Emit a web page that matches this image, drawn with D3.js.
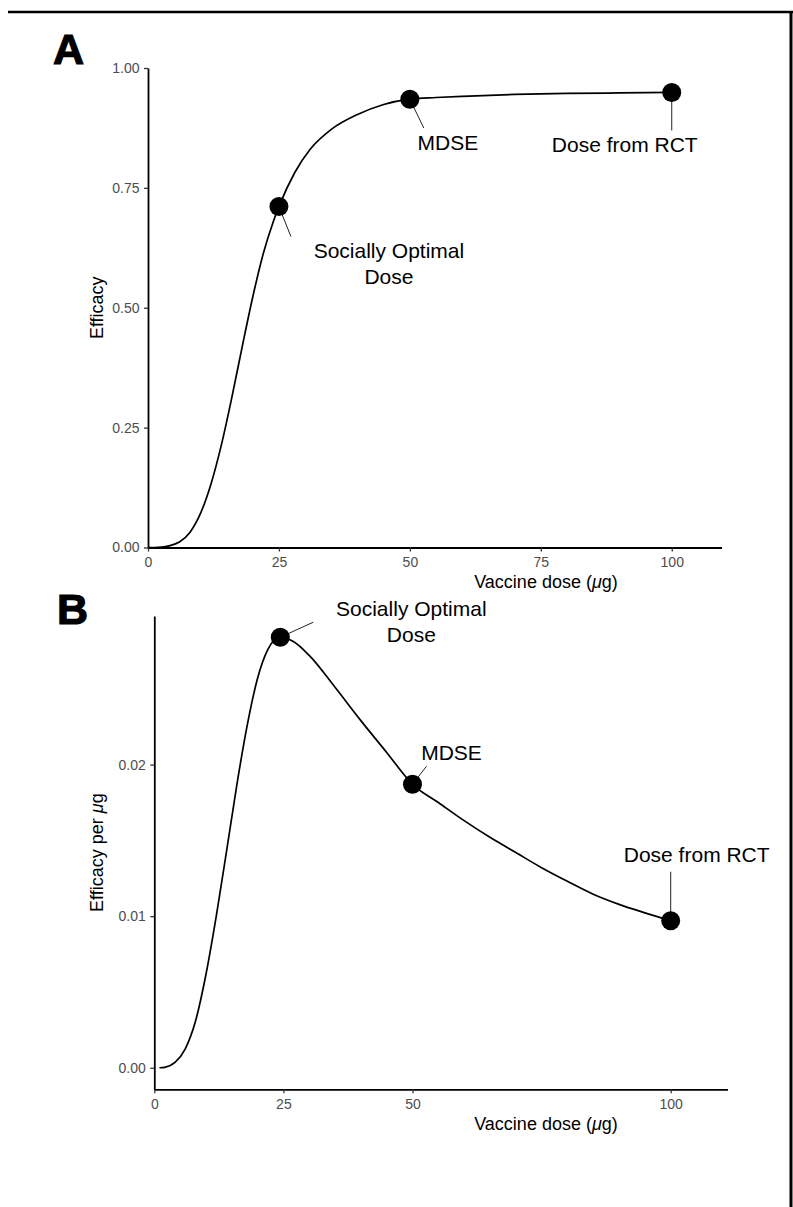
<!DOCTYPE html>
<html>
<head>
<meta charset="utf-8">
<script src="https://cdn.jsdelivr.net/npm/d3@7"></script>
<style>
  body { margin: 0; background: #fff; }
  svg { display: block; font-family: "Liberation Sans", Arial, sans-serif; }
</style>
</head>
<body>
<div id="chart"></div>
<script>
// Panel A: efficacy curve
const doseA = [0, 2, 4, 6, 8, 10, 12, 14, 16, 18, 20, 22, 24, 25, 28, 31, 35, 40, 45, 50, 55, 60, 70, 80, 90, 100];
const efficacyA = [0, 0.0005, 0.0035, 0.0115, 0.0315, 0.0705, 0.1315, 0.2135, 0.3125, 0.4195, 0.5225, 0.6125, 0.682, 0.711, 0.7815, 0.831, 0.872, 0.903, 0.924, 0.935, 0.9385, 0.941, 0.945, 0.947, 0.948, 0.949];

// Panel B: efficacy per microgram
const doseB = [1, 2, 4, 6, 8, 10, 12, 14, 16, 18, 20, 22, 24.4, 27, 30, 35, 40, 45, 50, 55, 60, 65, 70, 75, 80, 85, 90, 95, 100];
const efficacyPerUg = [0, 0.00003, 0.00035, 0.00125, 0.0031, 0.00615, 0.01, 0.0143, 0.0187, 0.0226, 0.0257, 0.0276, 0.0284, 0.0281, 0.0272, 0.0251, 0.0229, 0.0208, 0.0187, 0.0175, 0.0163, 0.0152, 0.0142, 0.0132, 0.0123, 0.01145, 0.01078, 0.01022, 0.0097];

// Highlighted doses
const markerNames = [["Socially Optimal", "Dose"], ["MDSE"], ["Dose from RCT"]];
const markerDoseA = [25, 50, 100];
const markerEffA = [0.711, 0.935, 0.949];
const markerDoseB = [24.4, 50, 100];
const markerEffB = [0.0284, 0.0187, 0.0097];

// Tick labels
const ticksAX = [0, 25, 50, 75, 100];
const ticksAY = [0, 0.25, 0.5, 0.75, 1];
const ticksBX = [0, 25, 50, 100];
const ticksBY = [0, 0.01, 0.02];

const svg = d3.select("#chart")
    .append("svg")
    .attr("width", 793)
    .attr("height", 1207);

svg.append("rect").attr("width", 793).attr("height", 1207).attr("fill", "#fff");

// frame lines (top and right)
svg.append("line")
    .attr("x1", 8).attr("x2", 793).attr("y1", 12).attr("y2", 12)
    .attr("stroke", "#000").attr("stroke-width", 2.5);
svg.append("line")
    .attr("x1", 791).attr("x2", 791).attr("y1", 11).attr("y2", 1207)
    .attr("stroke", "#000").attr("stroke-width", 3);

drawPanel({
    tag: "A", tagX: 53, tagY: 64,
    xDomain: [0, 109.5], xRange: [148, 721.5],
    yDomain: [0, 1], yRange: [547.5, 68],
    xTicks: ticksAX, yTicks: ticksAY,
    dose: doseA, value: efficacyA,
    mDose: markerDoseA, mValue: markerEffA,
    yTitle: "Efficacy", yTitleMu: false, yTitleX: 97,
    xTitleX: 546, xTitleY: 582,
    // label centre and segment end relative to the point, px
    labels: [
        { dx: 110, dy: 44, sx: 12, sy: 30 },
        { dx: 38, dy: 43.5, sx: 14, sy: 29 },
        { dx: -47, dy: 51.5, sx: 0, sy: 38 }
    ]
});

drawPanel({
    tag: "B", tagX: 57, tagY: 624,
    xDomain: [0, 111], xRange: [154.3, 727.5],
    yDomain: [-0.00142, 0.0298], yRange: [1089.3, 616],
    xTicks: ticksBX, yTicks: ticksBY,
    dose: doseB, value: efficacyPerUg,
    mDose: markerDoseB, mValue: markerEffB,
    yTitle: "Efficacy per ", yTitleMu: true, yTitleX: 97,
    xTitleX: 546, xTitleY: 1124,
    labels: [
        { dx: 131, dy: -28.3, sx: 33, sy: -15 },
        { dx: 39, dy: -31.7, sx: 14, sy: -18 },
        { dx: 26, dy: -66, sx: 0, sy: -49 }
    ]
});

function drawPanel(cfg) {
    const g = svg.append("g");

    const x = d3.scaleLinear().domain(cfg.xDomain).range(cfg.xRange);
    const y = d3.scaleLinear().domain(cfg.yDomain).range(cfg.yRange);

    // axes
    const xAxis = g.append("g")
        .attr("transform", `translate(0,${cfg.yRange[0]})`)
        .call(d3.axisBottom(x).tickValues(cfg.xTicks).tickSize(4).tickSizeOuter(0).tickPadding(5.5));
    const yAxis = g.append("g")
        .attr("transform", `translate(${cfg.xRange[0]},0)`)
        .call(d3.axisLeft(y).tickValues(cfg.yTicks).tickFormat(d3.format(".2f")).tickSize(4).tickSizeOuter(0).tickPadding(4.5));

    [xAxis, yAxis].forEach(a => {
        a.select(".domain").attr("stroke", "#000").attr("stroke-width", 1.8);
        a.selectAll(".tick line").attr("stroke", "#333").attr("stroke-width", 1.3);
        a.selectAll(".tick text")
            .attr("fill", "#4d4d4d")
            .style("font-size", "14px")
            .style("font-family", "Liberation Sans, Arial, sans-serif");
    });

    // curve
    const line = d3.line()
        .x((d, i) => x(cfg.dose[i]))
        .y(d => y(d))
        .curve(d3.curveMonotoneX);

    g.append("path")
        .datum(cfg.value)
        .attr("d", line)
        .attr("fill", "none")
        .attr("stroke", "#000")
        .attr("stroke-width", 1.7);

    // label segments (drawn under points)
    cfg.mDose.forEach((d, i) => {
        const px = x(d), py = y(cfg.mValue[i]);
        const lab = cfg.labels[i];
        g.append("line")
            .attr("x1", px).attr("y1", py)
            .attr("x2", px + lab.sx).attr("y2", py + lab.sy)
            .attr("stroke", "#222")
            .attr("stroke-width", 1);
    });

    g.selectAll(".marker")
        .data(cfg.mDose)
        .enter().append("circle")
        .attr("class", "marker")
        .attr("cx", d => x(d))
        .attr("cy", (d, i) => y(cfg.mValue[i]))
        .attr("r", 9.5)
        .attr("fill", "#000");

    // labels
    cfg.mDose.forEach((d, i) => {
        const px = x(d), py = y(cfg.mValue[i]);
        const lab = cfg.labels[i];
        const t = g.append("text")
            .attr("text-anchor", "middle")
            .style("font-size", "21px")
            .attr("fill", "#000");
        markerNames[i].forEach((s, k) => {
            t.append("tspan")
                .attr("x", px + lab.dx)
                .attr("y", py + lab.dy + k * 26)
                .attr("dy", "0.36em")
                .text(s);
        });
    });

    // axis titles
    const xt = g.append("text")
        .attr("x", cfg.xTitleX)
        .attr("y", cfg.xTitleY)
        .attr("dy", "0.36em")
        .attr("text-anchor", "middle")
        .style("font-size", "18px")
        .text("Vaccine dose (");
    xt.append("tspan").style("font-style", "italic").text("\u03bc");
    xt.append("tspan").text("g)");

    const yMid = (cfg.yRange[0] + cfg.yRange[1]) / 2;
    const yt = g.append("text")
        .attr("transform", `translate(${cfg.yTitleX},${yMid}) rotate(-90)`)
        .attr("dy", "0.36em")
        .attr("text-anchor", "middle")
        .style("font-size", "18px")
        .text(cfg.yTitle);
    if (cfg.yTitleMu) {
        yt.append("tspan").style("font-style", "italic").text("\u03bc");
        yt.append("tspan").text("g");
    }

    // panel tag
    g.append("text")
        .attr("x", cfg.tagX)
        .attr("y", cfg.tagY)
        .style("font-size", "43px")
        .style("font-weight", "bold")
        .attr("stroke", "#000")
        .attr("stroke-width", 1.2)
        .text(cfg.tag);
}
</script>
</body>
</html>
